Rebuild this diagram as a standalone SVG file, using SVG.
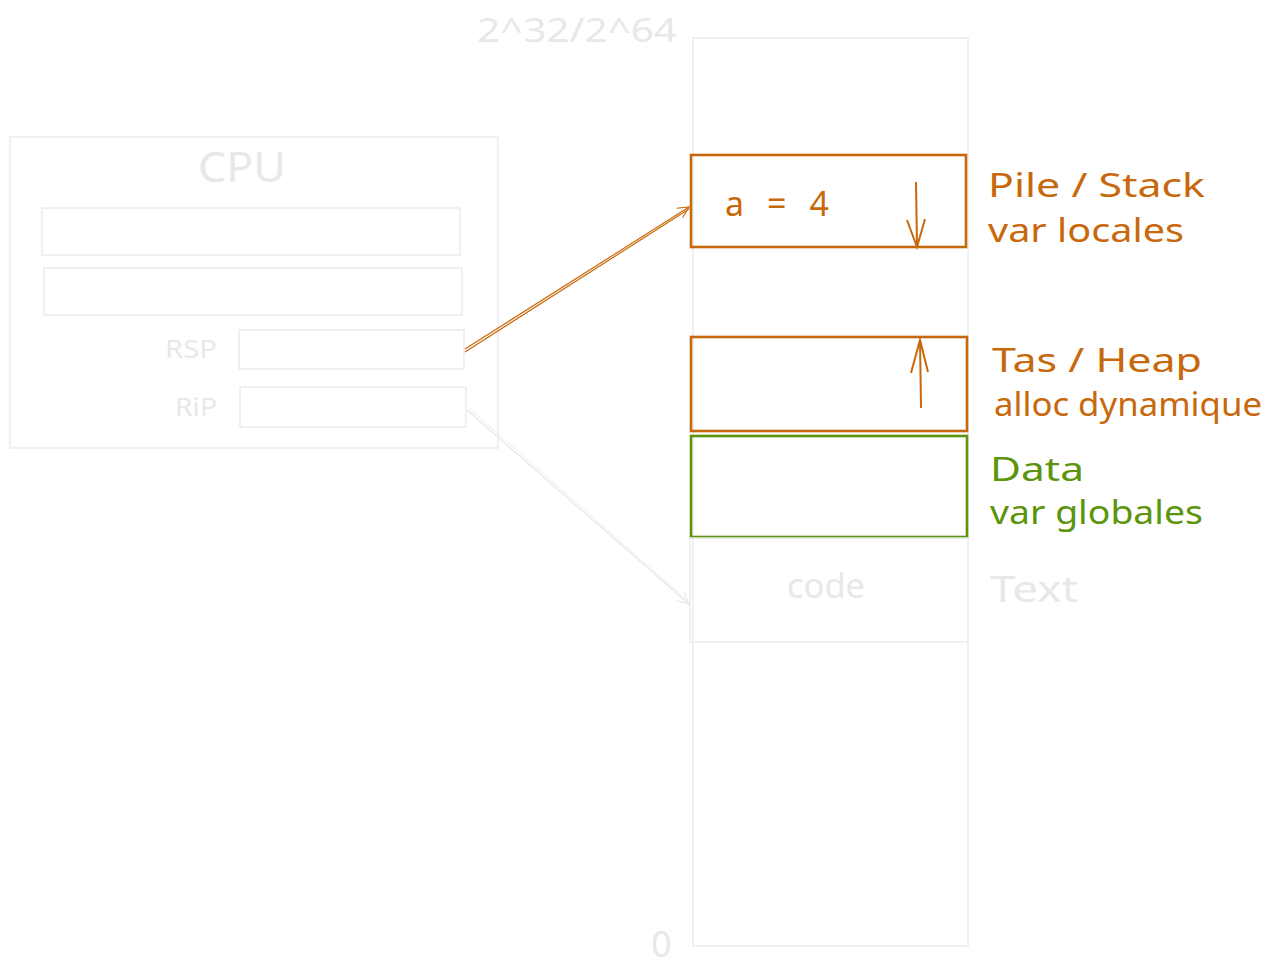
<svg xmlns="http://www.w3.org/2000/svg" width="1273" height="980" viewBox="0 0 1273 980">
<defs>
<style>
.g{fill:none;stroke:#ececec;stroke-width:1.5}
.o{fill:none;stroke:#c8680c;stroke-width:2.6}
.gr{fill:none;stroke:#5c940d;stroke-width:2.6}
text{font-family:"Noto Sans","Liberation Sans",sans-serif}
.tg{fill:#e8e8e8}
.to{fill:#c8680c}
.tgr{fill:#5c940d}
</style>
<marker id="ao" viewBox="0 0 20 20" refX="18" refY="10" markerWidth="14" markerHeight="14" markerUnits="userSpaceOnUse" orient="auto">
<path d="M2,2 L18,10 L2,18" fill="none" stroke="#c8680c" stroke-width="1.6"/>
</marker>
<marker id="ag" viewBox="0 0 20 20" refX="18" refY="10" markerWidth="14" markerHeight="14" markerUnits="userSpaceOnUse" orient="auto">
<path d="M2,2 L18,10 L2,18" fill="none" stroke="#e6e6e6" stroke-width="1.4"/>
</marker>
</defs>
<rect width="1273" height="980" fill="#ffffff"/>

<g id="top-label"><text class="tg" x="477" y="42" font-size="33" textLength="200" lengthAdjust="spacingAndGlyphs">2^32/2^64</text></g>
<g id="zero-label"><text class="tg" x="651" y="957" font-size="36">0</text></g>

<g id="memory"><rect class="g" x="693" y="38" width="275" height="908"/></g>

<g id="cpu">
<rect class="g" x="10" y="137" width="488" height="311"/>
<text class="tg" x="242" y="182" font-size="42" text-anchor="middle" textLength="88" lengthAdjust="spacingAndGlyphs">CPU</text>
<rect class="g" x="42" y="208" width="418" height="47"/>
<rect class="g" x="44" y="268" width="418" height="47"/>
</g>
<g id="rsp">
<rect class="g" x="239" y="330" width="225" height="39"/>
<text class="tg" x="217" y="358" font-size="26" text-anchor="end" textLength="52" lengthAdjust="spacingAndGlyphs">RSP</text>
</g>
<g id="rip">
<rect class="g" x="240" y="387" width="226" height="40"/>
<text class="tg" x="217" y="416" font-size="26" text-anchor="end" textLength="42" lengthAdjust="spacingAndGlyphs">RiP</text>
</g>

<g id="stack">
<rect class="o" x="691" y="155" width="275" height="92"/>
<text class="to" x="725" y="216" font-size="34" textLength="104" lengthAdjust="spacing">a = 4</text>
<line x1="916" y1="182" x2="917" y2="247" stroke="#c8680c" stroke-width="2"/>
<path d="M907,220 L917,247 L925,219" fill="none" stroke="#c8680c" stroke-width="2"/>
<text class="to" x="988" y="197" font-size="33" textLength="217" lengthAdjust="spacingAndGlyphs">Pile / Stack</text>
<text class="to" x="988" y="242" font-size="33" textLength="196" lengthAdjust="spacingAndGlyphs">var locales</text>
</g>

<g id="heap">
<rect class="o" x="691" y="337" width="276" height="94"/>
<line x1="921" y1="408" x2="920" y2="340" stroke="#c8680c" stroke-width="2"/>
<path d="M911,373 L920,340 L928,372" fill="none" stroke="#c8680c" stroke-width="2"/>
<text class="to" x="992" y="372" font-size="32" textLength="210" lengthAdjust="spacingAndGlyphs">Tas / Heap</text>
<text class="to" x="994" y="416" font-size="32" textLength="268" lengthAdjust="spacingAndGlyphs">alloc dynamique</text>
</g>

<g id="data">
<rect class="gr" x="691" y="436" width="276" height="101"/>
<text class="tgr" x="990" y="481" font-size="32" textLength="94" lengthAdjust="spacingAndGlyphs">Data</text>
<text class="tgr" x="990" y="524" font-size="33" textLength="213" lengthAdjust="spacingAndGlyphs">var globales</text>
</g>

<g id="code">
<rect class="g" x="690" y="538" width="278" height="104" stroke-width="2"/>
<text class="tg" x="826" y="598" font-size="34" text-anchor="middle" textLength="78" lengthAdjust="spacingAndGlyphs">code</text>
<text class="tg" x="990" y="602" font-size="36" textLength="88" lengthAdjust="spacingAndGlyphs">Text</text>
</g>

<g id="connectors">
<path d="M465,349 L689,207" fill="none" stroke="#c8680c" stroke-width="1.2" marker-end="url(#ao)"/>
<path d="M465,352 L689,209" fill="none" stroke="#c8680c" stroke-width="1.2"/>
<path d="M467,410 L689,604" fill="none" stroke="#e6e6e6" stroke-width="1.2" marker-end="url(#ag)"/>
<path d="M469,408 L689,602" fill="none" stroke="#ececec" stroke-width="1"/>
</g>
</svg>
